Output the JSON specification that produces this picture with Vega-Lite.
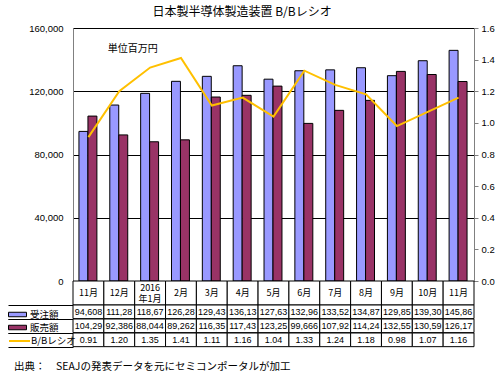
{
  "$schema": "https://vega.github.io/schema/vega-lite/v6.json",
  "padding": {"left": 7, "top": 5, "right": 5, "bottom": 4},
  "background": "white",
  "config": {
    "font": "Liberation Sans, Noto Sans CJK JP",
    "view": {"stroke": null},
    "axis": {"labelColor": "black", "labelFontSize": 9.5},
    "legend": {"labelColor": "black", "labelFont": "Noto Sans CJK JP", "labelFontSize": 9.5, "padding": 0}
  },
  "title": {"text": "日本製半導体製造装置 B/Bレシオ", "fontSize": 12, "fontWeight": "normal", "font": "Noto Sans CJK JP", "color": "black", "anchor": "middle", "dx": -9, "offset": 4},
  "datasets": {
    "bb": [
      {"ym": "2015-11", "mlabel": "11月", "orders": 94608, "sales": 104290, "ratio": 0.91, "oLabel": "94,608", "sLabel": "104,29", "rLabel": "0.91"},
      {"ym": "2015-12", "mlabel": "12月", "orders": 111280, "sales": 92386, "ratio": 1.20, "oLabel": "111,28", "sLabel": "92,386", "rLabel": "1.20"},
      {"ym": "2016-01", "mlabel": "2016\n年1月", "orders": 118670, "sales": 88044, "ratio": 1.35, "oLabel": "118,67", "sLabel": "88,044", "rLabel": "1.35"},
      {"ym": "2016-02", "mlabel": "2月", "orders": 126280, "sales": 89262, "ratio": 1.41, "oLabel": "126,28", "sLabel": "89,262", "rLabel": "1.41"},
      {"ym": "2016-03", "mlabel": "3月", "orders": 129430, "sales": 116350, "ratio": 1.11, "oLabel": "129,43", "sLabel": "116,35", "rLabel": "1.11"},
      {"ym": "2016-04", "mlabel": "4月", "orders": 136130, "sales": 117430, "ratio": 1.16, "oLabel": "136,13", "sLabel": "117,43", "rLabel": "1.16"},
      {"ym": "2016-05", "mlabel": "5月", "orders": 127630, "sales": 123250, "ratio": 1.04, "oLabel": "127,63", "sLabel": "123,25", "rLabel": "1.04"},
      {"ym": "2016-06", "mlabel": "6月", "orders": 132960, "sales": 99666, "ratio": 1.33, "oLabel": "132,96", "sLabel": "99,666", "rLabel": "1.33"},
      {"ym": "2016-07", "mlabel": "7月", "orders": 133520, "sales": 107920, "ratio": 1.24, "oLabel": "133,52", "sLabel": "107,92", "rLabel": "1.24"},
      {"ym": "2016-08", "mlabel": "8月", "orders": 134870, "sales": 114240, "ratio": 1.18, "oLabel": "134,87", "sLabel": "114,24", "rLabel": "1.18"},
      {"ym": "2016-09", "mlabel": "9月", "orders": 129850, "sales": 132550, "ratio": 0.98, "oLabel": "129,85", "sLabel": "132,55", "rLabel": "0.98"},
      {"ym": "2016-10", "mlabel": "10月", "orders": 139300, "sales": 130590, "ratio": 1.07, "oLabel": "139,30", "sLabel": "130,59", "rLabel": "1.07"},
      {"ym": "2016-11", "mlabel": "11月", "orders": 145860, "sales": 126170, "ratio": 1.16, "oLabel": "145,86", "sLabel": "126,17", "rLabel": "1.16"}
    ]
  },
  "bounds": "flush",
  "spacing": 0,
  "vconcat": [
    {
      "width": 401,
      "height": 253,
      "data": {"name": "bb"},
      "view": {"stroke": "#808080"},
      "encoding": {
        "x": {"field": "ym", "type": "ordinal", "scale": {"paddingInner": 0, "paddingOuter": 0}, "axis": null}
      },
      "layer": [
        {
          "layer": [
            {
              "mark": {"type": "bar", "stroke": "black", "strokeWidth": 1, "width": {"band": 0.29}, "xOffset": -5},
              "encoding": {
                "y": {
                  "field": "orders", "type": "quantitative",
                  "scale": {"domain": [0, 160000]},
                  "axis": {
                    "title": null, "values": [0, 20000, 40000, 60000, 80000, 100000, 120000, 140000, 160000],
                    "format": ",d", "grid": true, "gridColor": "black",
                    "ticks": false, "labelPadding": 10, "domainColor": "#808080"
                  }
                },
                "fill": {
                  "datum": "受注額", "type": "nominal",
                  "scale": {"domain": ["受注額", "販売額"], "range": ["#9999FF", "#993366"]},
                  "legend": {
                    "title": null, "orient": "none", "legendX": -60.5, "legendY": 281.5,
                    "symbolType": "M-2,-0.5H2V0.5H-2Z", "symbolSize": 81,
                    "symbolStrokeColor": "black", "symbolStrokeWidth": 1,
                    "labelOffset": 7.5, "rowPadding": 3
                  }
                }
              }
            },
            {
              "mark": {"type": "bar", "stroke": "black", "strokeWidth": 1, "width": {"band": 0.29}, "xOffset": 4},
              "encoding": {
                "y": {"field": "sales", "type": "quantitative"},
                "fill": {"datum": "販売額", "type": "nominal"}
              }
            },
            {
              "data": {"values": [{"ym": "2015-12", "v": 147000, "note": "単位百万円"}]},
              "mark": {"type": "text", "align": "left", "baseline": "middle", "dx": 4, "fontSize": 10, "font": "Noto Sans CJK JP", "color": "black"},
              "encoding": {
                "x": {"field": "ym", "type": "ordinal", "bandPosition": 0},
                "y": {"field": "v", "type": "quantitative"},
                "text": {"field": "note"}
              }
            }
          ]
        },
        {
          "mark": {"type": "line", "strokeWidth": 2},
          "encoding": {
            "y": {
              "field": "ratio", "type": "quantitative",
              "scale": {"domain": [0, 1.6]},
              "axis": {
                "orient": "right", "title": null, "values": [0, 0.2, 0.4, 0.6, 0.8, 1.0, 1.2, 1.4, 1.6],
                "format": ".1f", "grid": false, "tickSize": 4, "tickColor": "#808080",
                "domainColor": "#808080", "labelPadding": 3
              }
            },
            "stroke": {
              "datum": "B/Bレシオ", "type": "nominal",
              "scale": {"range": ["#FFC000"]},
              "legend": {
                "title": null, "orient": "none", "legendX": -65, "legendY": 301.5,
                "symbolType": "stroke", "symbolSize": 441, "symbolStrokeWidth": 2,
                "labelOffset": 0
              }
            }
          }
        }
      ],
      "resolve": {"scale": {"y": "independent"}}
    },
    {
      "width": 401, "height": 24,
      "data": {"name": "bb"},
      "encoding": {"x": {"field": "ym", "type": "ordinal", "scale": {"paddingInner": 0, "paddingOuter": 0}, "axis": null}},
      "layer": [
        {"mark": {"type": "rect", "fill": "white", "stroke": "black", "strokeWidth": 1}},
        {
          "transform": [{"filter": "datum.ym != '2016-01'"}],
          "mark": {"type": "text", "fontSize": 9, "baseline": "middle", "color": "black", "font": "Noto Sans CJK JP"},
          "encoding": {"text": {"field": "mlabel"}}
        },
        {
          "transform": [{"filter": "datum.ym == '2016-01'"}],
          "mark": {"type": "text", "fontSize": 9, "baseline": "middle", "color": "black", "font": "Noto Sans CJK JP", "lineBreak": "\n", "lineHeight": 11, "dy": -5},
          "encoding": {"text": {"field": "mlabel"}}
        }
      ]
    },
    {
      "width": 401, "height": 13.67,
      "data": {"name": "bb"},
      "encoding": {"x": {"field": "ym", "type": "ordinal", "scale": {"paddingInner": 0, "paddingOuter": 0}, "axis": null}},
      "layer": [
        {"mark": {"type": "rect", "fill": "white", "stroke": "black", "strokeWidth": 1}},
        {
          "mark": {"type": "text", "fontSize": 9, "baseline": "middle", "color": "black"},
          "encoding": {
            "y": {"datum": 0.5, "type": "quantitative", "scale": {"domain": [0, 1]},
                  "axis": {"title": null, "values": [0, 1], "labels": false, "grid": false, "domain": false, "ticks": true, "tickSize": 65, "tickColor": "black"}},
            "text": {"field": "oLabel"}
          }
        }
      ]
    },
    {
      "width": 401, "height": 13.67,
      "data": {"name": "bb"},
      "encoding": {"x": {"field": "ym", "type": "ordinal", "scale": {"paddingInner": 0, "paddingOuter": 0}, "axis": null}},
      "layer": [
        {"mark": {"type": "rect", "fill": "white", "stroke": "black", "strokeWidth": 1}},
        {
          "mark": {"type": "text", "fontSize": 9, "baseline": "middle", "color": "black"},
          "encoding": {
            "y": {"datum": 0.5, "type": "quantitative", "scale": {"domain": [0, 1]},
                  "axis": {"title": null, "values": [0, 1], "labels": false, "grid": false, "domain": false, "ticks": true, "tickSize": 65, "tickColor": "black"}},
            "text": {"field": "sLabel"}
          }
        }
      ]
    },
    {
      "width": 401, "height": 13.67,
      "data": {"name": "bb"},
      "title": {
        "text": "出典：　SEAJの発表データを元にセミコンポータルが加工",
        "orient": "bottom", "anchor": "start", "frame": "group", "dx": -59, "offset": 14,
        "fontSize": 10.5, "fontWeight": "normal", "font": "Noto Sans CJK JP", "color": "black"
      },
      "encoding": {"x": {"field": "ym", "type": "ordinal", "scale": {"paddingInner": 0, "paddingOuter": 0}, "axis": null}},
      "layer": [
        {"mark": {"type": "rect", "fill": "white", "stroke": "black", "strokeWidth": 1}},
        {
          "mark": {"type": "text", "fontSize": 9, "baseline": "middle", "color": "black"},
          "encoding": {
            "y": {"datum": 0.5, "type": "quantitative", "scale": {"domain": [0, 1]},
                  "axis": {"title": null, "values": [0, 1], "labels": false, "grid": false, "domain": false, "ticks": true, "tickSize": 65, "tickColor": "black"}},
            "text": {"field": "rLabel"}
          }
        }
      ]
    }
  ]
}
